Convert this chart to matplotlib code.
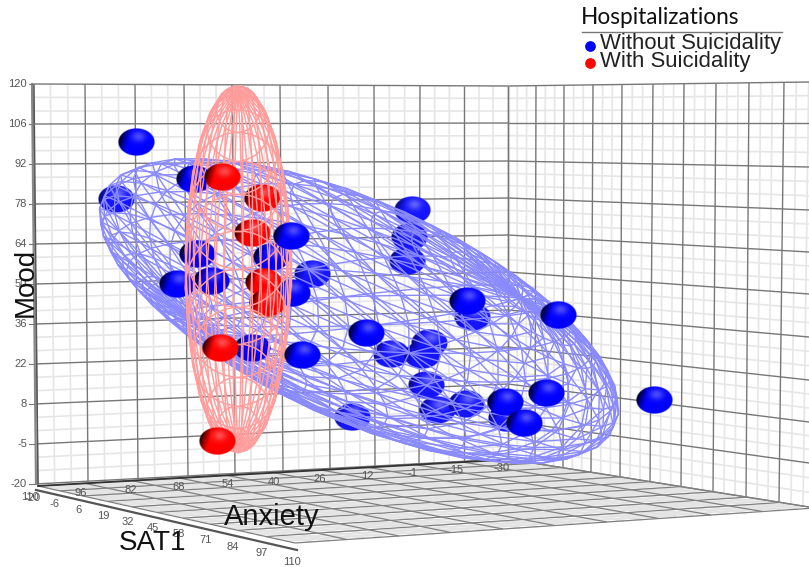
import numpy as np
import matplotlib
matplotlib.use('Agg')
import matplotlib.pyplot as plt
from matplotlib.collections import LineCollection

blue_back_x = [117, 313, 413, 410, 408, 473, 392, 423, 430, 427, 353, 438, 467, 507]
blue_back_y = [199, 274, 210, 237, 261, 317, 354, 355, 343, 385, 417, 410, 404, 418]
blue_mid_x = [195, 198, 178, 212, 293, 253, 272]
blue_mid_y = [179, 254, 284, 281, 293, 348, 257]
blue_front_x = [137, 292, 303, 468, 367, 506, 547, 525, 655, 559]
blue_front_y = [142, 236, 355, 301, 333, 402, 393, 423, 400, 315]
red_mid_x = [263, 253, 264, 268]
red_mid_y = [198, 233, 282, 303]
red_front_x = [223, 221, 218]
red_front_y = [177, 348, 441]

mood_ticks = ['120', '106', '92', '78', '64', '50', '36', '22', '8', '-5', '-20']
mood_left_y = [84, 124, 164, 204, 244, 284, 324, 364, 404, 444, 484]
mood_corner_y = [86, 123, 161, 198, 235, 272, 310, 347, 384, 421, 459]
mood_right_y = [82, 123, 167, 210, 252, 294, 337, 380, 422, 463, 507]

back_top_x = [33, 85, 135, 184, 232, 280, 328, 374, 420, 464, 508]
back_bottom_x = [38, 88, 138, 188, 235, 283, 330, 375, 419, 464, 508]
side_top_x = [508, 536, 564, 593, 622, 653, 684, 716, 749, 784, 821]
side_bottom_x = [508, 535, 563, 591, 620, 650, 681, 713, 746, 779, 815]

anxiety_ticks = ['110', '96', '82', '68', '54', '40', '26', '12', '-1', '-15', '-30']
anxiety_label_x = [30, 81, 131, 179, 228, 274, 320, 367, 413, 456, 502]
anxiety_label_y = [497, 493, 490, 487, 484, 482, 479, 476, 473, 470, 468]
sat_ticks = ['-20', '-6', '6', '19', '32', '45', '58', '71', '84', '97', '110']
sat_label_x = [33, 55, 79, 103, 128, 153, 179, 206, 233, 262, 292]
sat_label_y = [498, 504, 510, 516, 522, 528, 534, 540, 547, 553, 562]
sat_edge_x = [38, 60, 83, 107, 132, 157, 183, 210, 238, 266, 295]

FLOOR = np.array([[38, 486], [508, 459], [815, 508], [295, 543]], dtype=float)

MAJOR = '#777777'
MINOR = '#e6e6e6'


def wall_lines(left_y, right_y, top_x, bottom_x, x0, x1, top_y, bottom_y):
    """major and minor segments of one wall"""
    major, minor = [], []
    steps = np.arange(0, 10.01, 1/3)
    for f in steps:
        yl = np.interp(f, np.arange(11), left_y)
        yr = np.interp(f, np.arange(11), right_y)
        seg = [(x0, yl), (x1, yr)]
        (major if abs(f - round(f)) < 1e-6 else minor).append(seg)
    for f in steps:
        xt = np.interp(f, np.arange(11), top_x)
        xb = np.interp(f, np.arange(11), bottom_x)
        yt = np.interp(xt, [x0, x1], top_y)
        yb = np.interp(xb, [x0, x1], bottom_y)
        seg = [(xt, yt), (xb, yb)]
        (major if abs(f - round(f)) < 1e-6 else minor).append(seg)
    return major, minor


def floor_point(u, v):
    back = FLOOR[0] + (FLOOR[1] - FLOOR[0]) * u
    front = FLOOR[3] + (FLOOR[2] - FLOOR[3]) * u
    return tuple(back + (front - back) * v)


def floor_lines():
    major, minor = [], []
    edge = (np.array(sat_edge_x, dtype=float) - sat_edge_x[0]) / (sat_edge_x[-1] - sat_edge_x[0])
    for f in np.arange(0, 10.01, 1/3):
        u = f / 10
        v = np.interp(f, np.arange(11), edge)
        is_major = abs(f - round(f)) < 1e-6
        (major if is_major else minor).append([floor_point(u, 0), floor_point(u, 1)])
        (major if is_major else minor).append([floor_point(0, v), floor_point(1, v)])
    return major, minor


def ellipsoid_mesh(center, a, b, angle, tilt, spin, n_lat, n_lon, diagonals=True):
    """wire of an ellipsoid seen from the front, silhouette given by a, b and angle"""
    lat = np.linspace(0, np.pi, n_lat + 1)
    lon = np.linspace(0, 2 * np.pi, n_lon + 1)
    la, lo = np.meshgrid(lat, lon, indexing='ij')
    xyz = np.stack([np.sin(la) * np.cos(lo), np.sin(la) * np.sin(lo), np.cos(la)], axis=-1)
    t, s = np.radians(tilt), np.radians(spin)
    rx = np.array([[1, 0, 0], [0, np.cos(t), -np.sin(t)], [0, np.sin(t), np.cos(t)]])
    rz = np.array([[np.cos(s), -np.sin(s), 0], [np.sin(s), np.cos(s), 0], [0, 0, 1]])
    p = xyz @ (rz @ rx).T
    th = np.radians(angle)
    px = center[0] + a * p[..., 0] * np.cos(th) - b * p[..., 1] * np.sin(th)
    py = center[1] + a * p[..., 0] * np.sin(th) + b * p[..., 1] * np.cos(th)
    segs = []
    for i in range(n_lat):
        for j in range(n_lon):
            segs.append([(px[i, j], py[i, j]), (px[i + 1, j], py[i + 1, j])])
            segs.append([(px[i, j], py[i, j]), (px[i, j + 1], py[i, j + 1])])
            if diagonals:
                segs.append([(px[i, j], py[i, j]), (px[i + 1, j + 1], py[i + 1, j + 1])])
    return segs


def sphere_sprite(rgb, dark_amount):
    yy, xx = np.mgrid[-1:1:96j, -1:1:128j]
    r = np.sqrt(xx**2 + yy**2)
    dark = np.clip((-xx - 0.4 - 0.25 * yy) / 0.6, 0, 1) ** 1.2
    glow = 0.30 * np.exp(-((xx - 0.12)**2 + (yy + 0.40)**2) / 0.14)
    img = np.zeros(xx.shape + (4,))
    for c in range(3):
        img[..., c] = rgb[c] * (1 - dark_amount * dark) + glow * (1 - dark)
    img[..., :3] = np.clip(img[..., :3], 0, 1)
    img[..., 3] = np.clip((1 - r) * 30, 0, 1)
    return img


def draw_spheres(ax, xs, ys, rgb, zorder, dark_amount=0.9):
    sprite = sphere_sprite(rgb, dark_amount)
    for x, y in zip(xs, ys):
        ax.imshow(sprite, extent=(x - 18.5, x + 18.5, y + 14, y - 14), aspect='auto',
                  interpolation='bilinear', zorder=zorder)


plt.rcParams['font.family'] = ['Liberation Sans', 'DejaVu Sans']
fig = plt.figure(figsize=(8.09, 5.67), dpi=100)
ax = fig.add_axes([0, 0, 1, 1])
ax.set_autoscale_on(False)
ax.set_xlim(0, 809)
ax.set_ylim(567, 0)
ax.axis('off')

# walls and floor
bm, bn = wall_lines(mood_left_y, mood_corner_y, back_top_x, back_bottom_x, 35, 508, [84, 86], [484, 459])
sm, sn = wall_lines(mood_corner_y, mood_right_y, side_top_x, side_bottom_x, 508, 809, [86, 82], [459, 507])
fm, fn = floor_lines()
ax.add_collection(LineCollection(bn + sn, colors=MINOR, linewidths=1.2, zorder=1))
ax.add_collection(LineCollection(fn, colors='#e4e4e4', linewidths=1.7, zorder=1))
ax.add_collection(LineCollection(bm + sm, colors=MAJOR, linewidths=1.0, zorder=2))
ax.add_collection(LineCollection(fm, colors='#808080', linewidths=0.9, zorder=2))

# axis lines
ax.plot([32, 36], [84, 484], color='#888888', lw=1.6, zorder=2)
ax.plot([34, 38], [84, 484], color='#555555', lw=1.0, zorder=2)
ax.plot([38, 500], [486, 460], color='#333333', lw=1.3, zorder=2)
ax.plot([36, 297], [490, 550], color='#555555', lw=1.6, zorder=2)

for lab, y in zip(mood_ticks, mood_left_y):
    ax.plot([29, 34], [y, y], color='#777777', lw=0.8, zorder=2)
    ax.text(27, y, lab, ha='right', va='center', fontsize=8, color='#555555', zorder=3)
for lab, x, y in zip(anxiety_ticks, anxiety_label_x, anxiety_label_y):
    ax.text(x, y, lab, ha='center', va='center', fontsize=8, color='#555555', zorder=3)
for lab, x, y in zip(sat_ticks, sat_label_x, sat_label_y):
    ax.text(x, y, lab, ha='center', va='center', fontsize=8, color='#555555', zorder=3)

# points and ellipsoids, back to front
draw_spheres(ax, blue_back_x, blue_back_y, (0.08, 0.08, 1), 4, dark_amount=0.55)
blue_mesh = ellipsoid_mesh((359, 311), 281, 109, 24.4, 62, 35, 20, 30)
ax.add_collection(LineCollection(blue_mesh, colors='#8a8aff', linewidths=1.0, zorder=5))
draw_spheres(ax, blue_mid_x, blue_mid_y, (0, 0, 1), 6)
draw_spheres(ax, red_mid_x, red_mid_y, (1, 0, 0), 6)
red_mesh = ellipsoid_mesh((238, 269), 184, 53, 90, 72, 90, 15, 34, diagonals=False)
ax.add_collection(LineCollection(red_mesh, colors='#ff9c9c', linewidths=1.05, zorder=7))
draw_spheres(ax, blue_front_x, blue_front_y, (0, 0, 1), 8)
draw_spheres(ax, red_front_x, red_front_y, (1, 0, 0), 8)

# axis titles
ax.text(26, 282, 'Mood', rotation=90, ha='center', va='center', fontsize=20, color='#111111', zorder=9)
ax.text(272, 517, 'Anxiety', ha='center', va='center', fontsize=21, color='#111111', zorder=9)
ax.text(153, 543, 'SAT1', ha='center', va='center', fontsize=20, color='#111111', zorder=9)

# legend
ax.text(581, 17, 'Hospitalizations', ha='left', va='center', fontsize=16.3, family=['Lato', 'DejaVu Sans'], color='#111111')
ax.plot([582, 782], [32, 32], color='#777777', lw=1.0)
ax.scatter([590], [46], s=45, color='#0000ff', zorder=9)
ax.scatter([590], [63], s=45, color='#ff0000', zorder=9)
ax.text(600, 44, 'Without Suicidality', ha='left', va='center', fontsize=15.9, color='#222222')
ax.text(600, 62, 'With Suicidality', ha='left', va='center', fontsize=15.9, color='#222222')

fig.savefig('out.png', dpi=100)
